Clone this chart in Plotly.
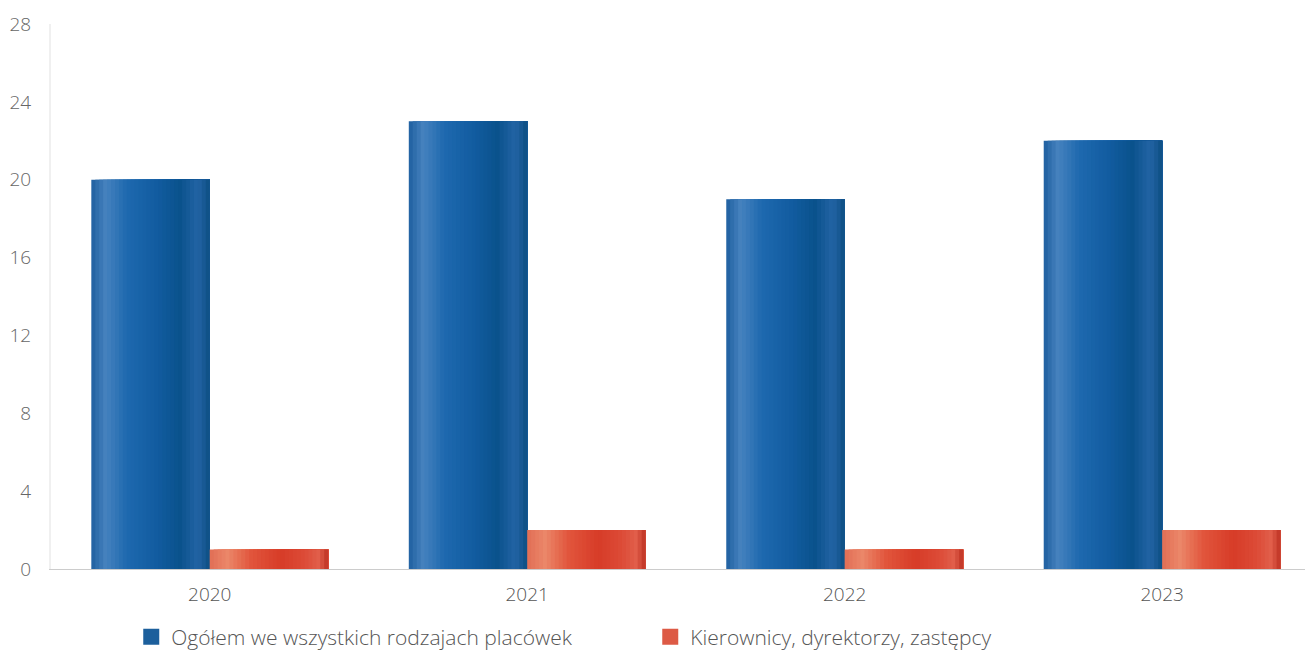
import plotly.graph_objects as go

years = ["2020", "2021", "2022", "2023"]
ogolem = [20, 23, 19, 22]
kierownicy = [1, 2, 1, 2]
series_names = ["Ogółem we wszystkich rodzajach placówek", "Kierownicy, dyrektorzy, zastępcy"]
y_ticks = [0, 4, 8, 12, 16, 20, 24, 28]

# horizontal shading profiles (style only)
blue_stops = [(0.0, (30, 95, 160)), (0.12, (70, 130, 190)), (0.3, (30, 105, 175)),
              (0.55, (18, 92, 160)), (0.75, (10, 82, 140)), (0.9, (35, 100, 165)), (1.0, (12, 78, 130))]
red_stops = [(0.0, (225, 110, 85)), (0.15, (235, 135, 105)), (0.35, (225, 85, 60)),
             (0.6, (215, 60, 40)), (0.8, (220, 75, 55)), (0.92, (225, 95, 75)), (1.0, (190, 50, 35))]


def color_at(stops, t):
    for (t0, c0), (t1, c1) in zip(stops[:-1], stops[1:]):
        if t0 <= t <= t1:
            f = (t - t0) / (t1 - t0) if t1 > t0 else 0
            c = [round(a + (b - a) * f) for a, b in zip(c0, c1)]
            return "rgb(%d,%d,%d)" % tuple(c)
    return "rgb(%d,%d,%d)" % stops[-1][1]


FONT = "'Open Sans', Lato, sans-serif"

fig = go.Figure()
bar_w = 0.373
n_stripes = 30
sw = bar_w / n_stripes
for vals, name, stops, base_off, legcol in [
    (ogolem, series_names[0], blue_stops, -bar_w, "#1c5f9c"),
    (kierownicy, series_names[1], red_stops, 0.0, "#dd5a45"),
]:
    for i in range(n_stripes):
        t = (i + 0.5) / n_stripes
        fig.add_trace(go.Bar(
            x=years, y=vals, name=name,
            offset=base_off + i * sw, width=bar_w - i * sw,
            marker=dict(color=color_at(stops, t), line=dict(width=0)),
            showlegend=False, hoverinfo="skip",
        ))
    # legend proxy
    fig.add_trace(go.Scatter(
        x=[years[0]], y=[None], name=name, mode="markers",
        marker=dict(color=legcol, symbol="square", size=16, line=dict(width=0)),
        showlegend=True,
    ))

fig.update_layout(
    width=1309, height=652,
    margin=dict(l=51, r=4, t=24, b=83, autoexpand=False),
    paper_bgcolor="white", plot_bgcolor="white",
    barmode="overlay",
    font=dict(family=FONT, color="#666666", size=16, weight=300),
    xaxis=dict(
        type="category", range=[-0.5, 3.45], automargin=False,
        showgrid=False, zeroline=False,
        showline=True, linecolor="#cccccc", linewidth=1,
        ticks="", ticklabelstandoff=8,
        tickfont=dict(family=FONT, size=19, color="#555555", weight=300),
    ),
    yaxis=dict(
        range=[0, 28], tickvals=y_ticks, automargin=False,
        showgrid=False, zeroline=False,
        showline=True, linecolor="#f0f0f0", linewidth=2,
        ticks="", ticklabelstandoff=14,
        tickfont=dict(family=FONT, size=19, color="#666666", weight=300),
    ),
    legend=dict(
        orientation="h", x=0.064, xanchor="left", y=-0.125, yanchor="middle",
        entrywidth=474, entrywidthmode="pixels",
        font=dict(family=FONT, size=21, color="#555555", weight=300),
        itemwidth=30, itemsizing="trace",
    ),
    showlegend=True,
)

fig.write_html("out.html", config={"displayModeBar": False},
               post_script="document.body.style.margin='0';document.body.style.padding='0';")
